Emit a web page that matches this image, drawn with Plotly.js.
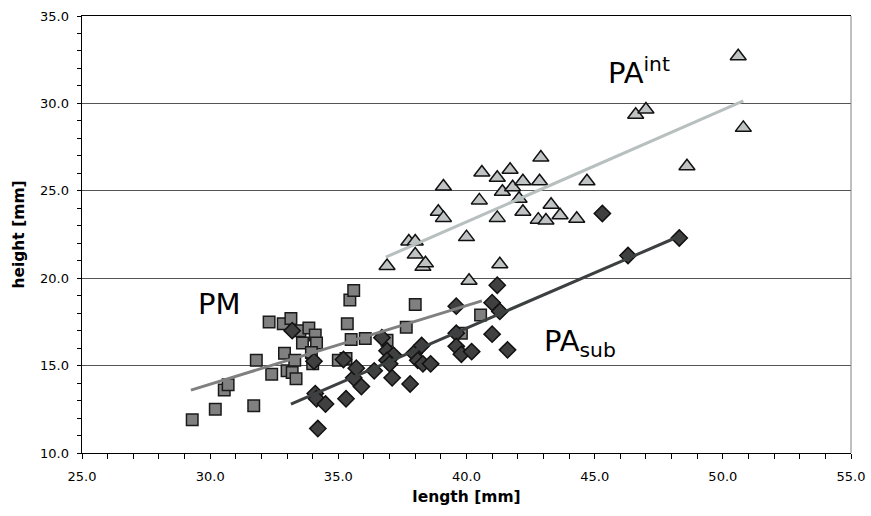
<!DOCTYPE html>
<html>
<head>
<meta charset="utf-8">
<script src="https://cdn.plot.ly/plotly-3.0.1.min.js"></script>
<style>html,body{margin:0;padding:0;background:#fff;}#chart{width:871px;height:516px;}</style>
</head>
<body>
<div id="chart"></div>
<script>
// PM (squares)
const pmX = [29.3, 30.2, 31.7, 30.55, 30.7, 31.8, 32.4, 32.3, 32.85, 33.15, 32.9, 33.0, 33.2, 33.35, 33.3, 33.5, 33.85, 34.1, 33.6, 34.15, 33.95, 34.0, 35.0, 35.3, 35.35, 35.5, 35.45, 35.6, 36.05, 36.9, 37.65, 38.0, 39.8, 40.55];
const pmY = [11.9, 12.5, 12.7, 13.6, 13.9, 15.3, 14.5, 17.5, 17.4, 17.7, 15.7, 14.7, 14.6, 14.25, 15.3, 17.0, 17.15, 16.75, 16.3, 16.3, 15.75, 15.1, 15.3, 15.4, 17.4, 16.5, 18.75, 19.3, 16.55, 16.45, 17.2, 18.5, 16.85, 17.9];
// PA sub (diamonds)
const subX = [34.2, 34.1, 34.15, 34.5, 35.3, 35.9, 35.6, 35.7, 36.4, 35.2, 34.05, 33.2, 36.7, 36.9, 37.15, 36.9, 37.0, 37.1, 37.8, 37.95, 38.25, 38.1, 38.3, 38.6, 39.6, 39.6, 39.8, 40.2, 41.0, 41.6, 39.6, 41.0, 41.2, 41.3, 45.3, 46.3, 48.3];
const subY = [11.4, 13.4, 13.1, 12.8, 13.1, 13.8, 14.3, 14.85, 14.7, 15.35, 15.25, 17.0, 16.6, 15.85, 15.6, 15.3, 15.1, 14.3, 13.95, 15.7, 16.15, 15.3, 15.1, 15.1, 16.85, 16.1, 15.65, 15.8, 16.8, 15.9, 18.4, 18.6, 19.6, 18.1, 23.7, 21.3, 22.3];
// PA int (triangles)
const intX = [36.9, 37.75, 38.0, 38.0, 38.3, 38.4, 38.9, 39.1, 39.1, 40.0, 40.1, 41.3, 40.6, 41.2, 40.5, 41.7, 41.4, 41.8, 42.2, 42.05, 41.2, 42.2, 42.85, 42.9, 43.3, 42.8, 43.1, 43.65, 44.3, 44.7, 46.6, 47.0, 48.6, 50.6, 50.8];
const intY = [20.7, 22.1, 22.1, 21.35, 20.65, 20.85, 23.8, 23.45, 25.25, 22.35, 19.85, 20.8, 26.05, 25.75, 24.45, 26.2, 24.95, 25.2, 25.55, 24.55, 23.45, 23.8, 25.55, 26.9, 24.2, 23.35, 23.3, 23.6, 23.4, 25.55, 29.35, 29.65, 26.4, 32.7, 28.6];
// trend lines (endpoints)
const pmTrendX = [29.25, 40.6];
const pmTrendY = [13.6, 18.7];
const subTrendX = [33.15, 48.3];
const subTrendY = [12.8, 22.4];
const intTrendX = [36.85, 50.8];
const intTrendY = [21.2, 30.15];
// labels
const xTitle = 'length [mm]';
const yTitle = 'height [mm]';

const traces = [
  {x: pmX, y: pmY, type: 'scatter', mode: 'markers', name: 'PM',
   marker: {symbol: 'square', size: 11.5, color: '#808080', line: {color: '#1a1a1a', width: 1.5}}},
  {x: subX, y: subY, type: 'scatter', mode: 'markers', name: 'PA sub',
   marker: {symbol: 'diamond', size: 12.5, color: '#404040', line: {color: '#111', width: 1.5}}},
  {x: intX, y: intY, type: 'scatter', mode: 'markers', name: 'PA int',
   marker: {symbol: 'triangle-up', size: 14, color: '#bfc3c3', line: {color: '#111', width: 1.5}}},
  {x: pmTrendX, y: pmTrendY, type: 'scatter', mode: 'lines', line: {color: '#808080', width: 3}},
  {x: subTrendX, y: subTrendY, type: 'scatter', mode: 'lines', line: {color: '#3c4040', width: 3}},
  {x: intTrendX, y: intTrendY, type: 'scatter', mode: 'lines', line: {color: '#b8bfbf', width: 3}},
  // empty trace that carries the label axis
  {x: [null], y: [null], yaxis: 'y2', type: 'scatter', mode: 'markers', hoverinfo: 'skip', showlegend: false}
];

const layout = {
  width: 871, height: 516,
  margin: {l: 69, r: 20, t: 16, b: 63},
  showlegend: false,
  paper_bgcolor: '#fff', plot_bgcolor: '#fff',
  font: {family: 'DejaVu Sans, Verdana, sans-serif', size: 13, color: '#000'},
  xaxis: {
    domain: [13 / 782, 1],
    range: [25, 55], dtick: 5, tickformat: '.1f', showgrid: false, zeroline: false,
    showline: true, linecolor: '#000', linewidth: 1, mirror: true,
    ticks: 'outside', ticklen: 5, tickcolor: '#000', ticklabelstandoff: 6,
    minor: {dtick: 1, ticks: 'outside', ticklen: 5, tickcolor: '#000', showgrid: false},
    title: {text: '<b>' + xTitle + '</b>', font: {size: 15.5}, standoff: 8}
  },
  yaxis: {
    anchor: 'x',
    range: [10, 35], dtick: 5, showgrid: true, gridcolor: '#555', gridwidth: 1, zeroline: false,
    showline: true, linecolor: '#000', linewidth: 1, showticklabels: false,
    ticks: 'outside', ticklen: 4, tickcolor: '#000',
    minor: {dtick: 1, ticks: 'outside', ticklen: 4, tickcolor: '#000', showgrid: false}
  },
  yaxis2: {
    overlaying: 'y', anchor: 'free', position: 0, side: 'left',
    range: [10, 35], dtick: 5, tickformat: '.1f', showgrid: false, zeroline: false,
    showline: false, ticks: '',
    title: {text: '<b>' + yTitle + '</b>', font: {size: 15.5}, standoff: 10}
  },
  shapes: [
    {type: 'line', xref: 'paper', yref: 'paper', x0: 1, x1: 1, y0: 0, y1: 1, line: {color: '#808080', width: 1}}
  ],
  annotations: [
    {x: 29.45, y: 18.5, xref: 'x', yref: 'y', text: 'PM', showarrow: false, xanchor: 'left', yanchor: 'middle', font: {size: 29}},
    {x: 42.95, y: 16.3, xref: 'x', yref: 'y', text: 'PA<sub>sub</sub>', showarrow: false, xanchor: 'left', yanchor: 'middle', font: {size: 29}},
    {x: 45.45, y: 31.85, xref: 'x', yref: 'y', text: 'PA<sup>int</sup>', showarrow: false, xanchor: 'left', yanchor: 'middle', font: {size: 29}}
  ]
};

Plotly.newPlot('chart', traces, layout, {displayModeBar: false, staticPlot: true});
</script>
</body>
</html>
